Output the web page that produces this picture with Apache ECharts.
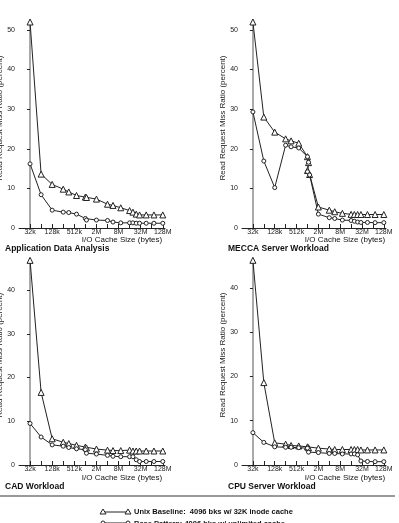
<!DOCTYPE html>
<html>
<head>
<meta charset="utf-8">
<script src="https://cdn.jsdelivr.net/npm/echarts@6/dist/echarts.min.js"></script>
<style>
  html, body { margin: 0; padding: 0; background: #fff; }
  #chart { width: 399px; height: 523px; }
</style>
</head>
<body>
<div id="chart"></div>
<script>
// x = log2(cache size / 32k)
var sizeLabels = ["32k", "64k", "128k", "256k", "512k", "1M", "2M", "4M", "8M", "16M", "32M", "64M", "128M"];
var xs = [0, 1, 2, 3, 3.5, 4.2, 5, 5.1, 6, 7, 7.5, 8.2, 9, 9.3, 9.6, 9.9, 10.5, 11.2, 12];
var xsMecca = [0, 1, 2, 3, 3.5, 4.2, 5, 5.1, 5, 5.2, 6, 7, 7.5, 8.2, 9, 9.3, 9.6, 9.9, 10.5, 11.2, 12];

var adaUnix = [52, 13.6, 11, 9.8, 9.1, 8.2, 7.8, 7.7, 7.3, 6.0, 5.7, 5.1, 4.4, 4.0, 3.5, 3.3, 3.3, 3.3, 3.3];
var adaOther = [16.2, 8.4, 4.5, 4.0, 3.9, 3.5, 2.4, 2.0, 2.0, 1.9, 1.5, 1.3, 1.3, 1.3, 1.2, 1.2, 1.2, 1.2, 1.2];

var meccaUnix = [52, 28, 24.2, 22.5, 22.0, 21.4, 18.0, 16.5, 14.5, 13.5, 5.3, 4.5, 4.1, 3.7, 3.45, 3.4, 3.4, 3.4, 3.4, 3.4, 3.4];
var meccaOther = [29.3, 16.9, 10.2, 20.9, 20.5, 20.2, 18.0, 16.6, 14.2, 13.4, 3.5, 2.6, 2.4, 2.0, 1.9, 1.7, 1.5, 1.4, 1.4, 1.35, 1.35];

var cadUnix = [46.8, 16.6, 6.0, 5.2, 4.9, 4.5, 4.1, 3.9, 3.65, 3.4, 3.3, 3.3, 3.4, 3.2, 3.2, 3.2, 3.2, 3.2, 3.2];
var cadOther = [9.5, 6.4, 4.6, 4.3, 4.0, 3.7, 3.5, 2.7, 2.5, 2.2, 2.0, 1.9, 1.9, 1.9, 1.2, 0.8, 0.8, 0.8, 0.8];

var cpuUnix = [46.2, 18.6, 5.0, 4.7, 4.4, 4.3, 4.1, 3.9, 3.8, 3.6, 3.5, 3.5, 3.5, 3.5, 3.5, 3.4, 3.4, 3.4, 3.4];
var cpuOther = [7.3, 5.1, 4.1, 4.0, 4.0, 3.9, 3.8, 2.9, 2.8, 2.6, 2.6, 2.5, 2.5, 2.5, 2.3, 0.9, 0.8, 0.75, 0.75];

var yTicks = [0, 10, 20, 30, 40, 50];
var yTicksLow = [0, 10, 20, 30, 40];

var FONT = "'Liberation Sans', Arial, sans-serif";
var INK = "#222";

function pairs(x, y) {
  return y.map(function (v, i) { return [x[i], v]; });
}

var chart = echarts.init(document.getElementById("chart"));

var grids = [
  { left: 19, top: 22, width: 146, height: 206 },
  { left: 242, top: 22, width: 144, height: 206 },
  { left: 19, top: 259.5, width: 146, height: 205.5 },
  { left: 242, top: 259, width: 144, height: 206 }
];
grids.forEach(function (g) { g.outerBoundsMode = "none"; g.containLabel = false; });

function xAxis(i) {
  return {
    gridIndex: i,
    type: "value",
    min: -1,
    max: 12.2,
    splitLine: { show: false },
    axisLine: { lineStyle: { color: INK, width: 1 } },
    axisTick: {
      inside: true, length: 4,
      customValues: [0, 1, 2, 3, 4, 5, 6, 7, 8, 9, 10, 11, 12],
      lineStyle: { color: INK }
    },
    axisLabel: {
      customValues: [0, 2, 4, 6, 8, 10, 12],
      formatter: function (v) { return sizeLabels[Math.round(v)] || ""; },
      color: INK, fontSize: 7, fontFamily: FONT, margin: 1
    }
  };
}

function yAxis(i, max, ticks) {
  return {
    gridIndex: i,
    type: "value",
    min: 0,
    max: max,
    splitLine: { show: false },
    axisLine: { lineStyle: { color: "#aaa", width: 2 } },
    axisTick: { length: 3, customValues: ticks, lineStyle: { color: INK } },
    axisLabel: { customValues: ticks, color: INK, fontSize: 7, fontFamily: FONT, margin: 4 },
    name: "Read Request Miss Ratio (percent)",
    nameLocation: "middle",
    nameGap: 8,
    nameTextStyle: { color: INK, fontSize: 8, fontFamily: FONT, padding: [0, 0, 0, 14] }
  };
}

function series(i, x, y, tri) {
  return {
    type: "line",
    xAxisIndex: i,
    yAxisIndex: i,
    data: pairs(x, y),
    clip: false,
    symbol: tri ? "triangle" : "circle",
    symbolSize: tri ? 6 : 4,
    lineStyle: { color: INK, width: 1 },
    itemStyle: { color: "#fff", borderColor: INK, borderWidth: 1 },
    emphasis: { disabled: true }
  };
}

function label(x, y, text, size, bold, align) {
  return {
    type: "text",
    x: x, y: y,
    style: {
      text: text,
      fill: "#111",
      font: (bold ? "bold " : "") + size + "px " + FONT,
      textAlign: align || "left",
      textVerticalAlign: "middle"
    }
  };
}

var option = {
  animation: false,
  backgroundColor: "#fff",
  grid: grids,
  xAxis: [xAxis(0), xAxis(1), xAxis(2), xAxis(3)],
  yAxis: [yAxis(0, 52, yTicks), yAxis(1, 52, yTicks), yAxis(2, 47, yTicksLow), yAxis(3, 46.5, yTicksLow)],
  series: [
    series(0, xs, adaUnix, true),
    series(0, xs, adaOther, false),
    series(1, xsMecca, meccaUnix, true),
    series(1, xsMecca, meccaOther, false),
    series(2, xs, cadUnix, true),
    series(2, xs, cadOther, false),
    series(3, xs, cpuUnix, true),
    series(3, xs, cpuOther, false)
  ],
  graphic: [
    label(122, 240, "I/O Cache Size (bytes)", 8, false, "center"),
    label(345, 240, "I/O Cache Size (bytes)", 8, false, "center"),
    label(122, 478, "I/O Cache Size (bytes)", 8, false, "center"),
    label(345, 478, "I/O Cache Size (bytes)", 8, false, "center"),
    label(5, 249, "Application Data Analysis", 8.5, true),
    label(228, 249, "MECCA Server Workload", 8.5, true),
    label(5, 487, "CAD Workload", 8.5, true),
    label(228, 487, "CPU Server Workload", 8.5, true),
    { type: "line", shape: { x1: 0, y1: 496, x2: 395, y2: 496 }, style: { stroke: "#777", lineWidth: 1.5 } },
    // legend
    { type: "line", shape: { x1: 103, y1: 512, x2: 128, y2: 512 }, style: { stroke: INK, lineWidth: 1 } },
    { type: "polygon", shape: { points: [[103, 509], [100, 514], [106, 514]] }, style: { fill: "#fff", stroke: INK, lineWidth: 1 } },
    { type: "polygon", shape: { points: [[128, 509], [125, 514], [131, 514]] }, style: { fill: "#fff", stroke: INK, lineWidth: 1 } },
    label(134, 512, "Unix Baseline:  4096 bks w/ 32K inode cache", 7.5, true),
    { type: "line", shape: { x1: 103, y1: 523, x2: 128, y2: 523 }, style: { stroke: INK, lineWidth: 1 } },
    { type: "circle", shape: { cx: 103, cy: 523, r: 2 }, style: { fill: "#fff", stroke: INK, lineWidth: 1 } },
    { type: "circle", shape: { cx: 128, cy: 523, r: 2 }, style: { fill: "#fff", stroke: INK, lineWidth: 1 } },
    label(134, 524, "Base Pattern: 4096 bks w/ unlimited cache", 7.5, true)
  ]
};

chart.setOption(option);
</script>
</body>
</html>
